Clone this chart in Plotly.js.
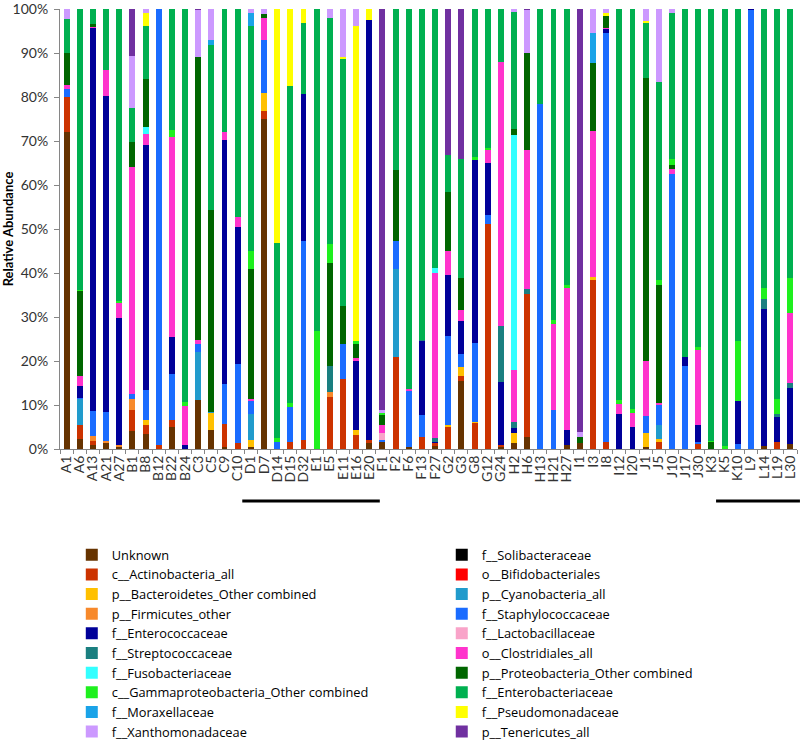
<!DOCTYPE html>
<html>
<head>
<meta charset="utf-8">
<script src="https://cdn.plot.ly/plotly-3.0.1.min.js"></script>
<style>html,body{margin:0;padding:0;background:#fff;}#chart{width:800px;height:740px;}</style>
</head>
<body>
<div id="chart"></div>
<script>
const samples = ["A1","A6","A13","A21","A27","B1","B8","B12","B22","B24",
  "C3","C5","C9","C10","D1","D7","D14","D15","D32","E1",
  "E5","E11","E16","E20","F1","F2","F6","F13","F27","G2",
  "G3","G8","G12","G24","H2","H6","H13","H21","H27","I1",
  "I3","I8","I12","I20","J1","J5","J10","J17","J30","K3",
  "K5","K10","L9","L14","L19","L30"];

const seriesNames = ["Unknown","f__Solibacteraceae","c__Actinobacteria_all","o__Bifidobacteriales",
  "p__Bacteroidetes_Other combined","p__Cyanobacteria_all","p__Firmicutes_other","f__Staphylococcaceae",
  "f__Enterococcaceae","f__Lactobacillaceae","f__Streptococcaceae","o__Clostridiales_all",
  "f__Fusobacteriaceae","p__Proteobacteria_Other combined","c__Gammaproteobacteria_Other combined",
  "f__Enterobacteriaceae","f__Moraxellaceae","f__Pseudomonadaceae","f__Xanthomonadaceae","p__Tenericutes_all"];

const seriesColors = ["#663300","#000000","#cc3300","#ff0000","#ffc000","#219bcc","#f7892b","#1a6cff",
  "#000099","#f9a3c9","#1a7f80","#ff33cc","#33ffff","#006600","#1ef01e","#00b050","#1aa3e8","#ffff00",
  "#cc99ff","#7030a0"];

const yTickValues = [0,10,20,30,40,50,60,70,80,90,100];

const unknown = [72,2.2,0.8,1.3,0.5,4.1,3.4,0,4.9,0,
  11.1,4.3,0.5,0,0.5,75.0,0,0,0,0,
  0,0,0,1.3,1.7,0,0.5,0,0.7,0,
  15.4,0,0,0.5,1.3,2.8,0,0,0.9,1.3,
  0,0,0,0,0.5,0,0,0,0,0,
  0,0,0,0.7,0,1.1];
const solibacteraceae = [0,0,0,0,0,0,0,0,0,0, 0,0,0,0,0,0,0,0,0,0, 0,0,0,0,0,0,0,0,0,0,
  0,0,0,0,0,0,0,0,0,0, 0,0,0,0,0,0,0,0,0,0, 0,0,0,0,0,0];
const actinobacteria = [8.1,3.2,1.0,0,0,4.7,2.0,0.9,1.7,0,
  0,0,5.1,1.3,0,1.9,0,1.7,2.0,0,
  11.8,16.0,3.2,0.8,0,21.0,0,2.8,0.6,4.9,
  1.3,5.9,51.1,0.4,0,32.5,0,0,0,0,
  38.5,1.7,0,0,0,1.7,0,0,1.1,0,
  0,0,0,0,1.7,0];
const bifidobacteriales = [0,0,0,0,0,0,0,0,0,0, 0,0,0,0,0,0,0,0,0,0, 0,0,0,0,0,0,0,0,0,0,
  0,0,0,0,0,0,0,0,0,0, 0,0,0,0,0,0,0,0,0,0, 0,0,0,0,0,0];
const bacteroidetes = [0,0,0,0,0,0,1.1,0,0,0,
  0,3.8,0,0,1.5,4.1,0,0,0,0,
  0,0,1.1,0,0,0,0,0,0,0.5,
  1.9,0.2,0,0,2.4,0,0,0,0,0,
  0.5,0,0,0,3.2,0.5,0,0,0,0,
  0,0,0,0,0,0];
const cyanobacteria = [0,6.0,0,0,0,0,0,0,0,0,
  10.9,0.3,0,0,6.0,0,0,0,0,0,
  0,0,0,0,0,19.8,0,0,0,0,
  0,0,0,0,0,0,0,0,0,0,
  0,0,0,0,0,3.2,0,0,0,0,
  0,0,0,0,0,0];
const firmicutes = [0,0,1.2,0.6,0.5,2.6,0,0,0,0,
  0,0,0,0,0,0,0,0,0,0,
  1.1,0,0,0,0,0,0,0,0,0,
  0,0,0,0,0,0,0,0,0,0,
  0,0,0,0,0,0,0,0,0,0,
  0,0,0,0,0,0];
const staphylococcaceae = [1.8,0.3,5.6,6.5,0,1.1,6.8,99.1,10.5,0,
  1.9,0,9.2,18.1,3.0,12.0,1.7,7.9,45.3,0,
  0,7.9,0,0,0.4,6.4,12.6,4.9,0,20.3,
  3.0,18.1,2.0,0,0,0,78.4,8.8,0,0,
  0,92.9,0,0,3.8,4.5,62.6,18.8,0.5,0,
  0,1.1,99.7,0,0,0];
const enterococcaceae = [0,2.6,87.1,71.8,28.8,0,55.7,0,8.3,0.9,
  0,0,55.5,31.0,0,0,0,0,33.3,0,
  0,0,15.8,95.4,0,0,0,16.8,0.4,13.8,
  7.5,41.4,12.0,14.3,1.0,0,0,0,3.4,0,
  0,0.8,7.9,4.9,0,0,0,2.2,3.8,0,
  0,9.9,0.3,31.1,5.6,12.7];
const lactobacillaceae = [0,0,0,0,0,0,0,0,0,0,
  0,0,0,0,0,0,0,0,0,0,
  0,0,0,0,1.5,0,0,0,0,0,
  0,0,0,0,0,0,0,0,0,0,
  0,0,0,0,0,0,0,0,0,0,
  0,0,0,0,0,0];
const streptococcaceae = [0,0,0,0,0,0,0,0,0,0,
  0,0,0,0,0,0,0,0,0,0,
  6.0,0,0,0,0,0,0,0.3,0.8,0,
  0,0,0,12.8,1.5,1.0,0,0,0,0,
  0,0,0,0,0,0,0,0,0,0,
  0,0,0,2.4,0.6,1.2];
const clostridiales = [0.9,2.3,0.3,6.0,3.4,51.7,2.6,0,45.5,8.8,
  0.8,0,1.7,2.3,0.4,4.9,0,0,0,0,
  0,0,0.6,0,1.9,0,0.5,0,37.6,5.6,
  2.6,0,2.9,60.0,11.7,31.6,0,19.6,32.4,0,
  33.3,0.3,2.4,3.2,12.5,0.5,1.1,0,17.1,0,
  0,0,0,0,0,16.0];
const fusobacteriaceae = [0,0,0,0,0,0,1.5,0,0,0,
  0,0,0,0,0,0,0,0,0,0,
  0,0,0,0,0,0,0,0,1.1,0,
  0,0,0,0,53.4,0,0,0,0,0,
  0,0,0,0,0,0,0,0,0,0,
  0,0,0,0,0,0];
const proteobacteria = [7.1,19.2,0.5,0,0,5.5,11.1,0,0,0,
  64.3,45.9,0,0,29.4,1.0,0,0,0,0,
  23.3,8.7,3.2,0,2.3,16.2,0,0,0,13.4,
  7.1,0,0,0,1.5,22.0,0,0,0,1.5,
  15.4,2.8,0,0,64.3,26.8,0.8,0,0,1.5,
  0,0,0,0,0,0];
const gammaproteobacteria = [0,0.4,0,0,0.5,0,0,0,1.5,1.0,
  0,0,0,0,4.1,0,0.8,0.8,0,26.9,
  4.5,0,0.6,0,0.3,0,0,0,0,0,
  0,0.8,0.4,0,0,0,0,0.9,0.6,0,
  0,0,0.8,1.1,0,1.3,1.5,0,0.6,0.4,
  0.7,13.5,0,2.3,3.4,7.9];
const enterobacteriaceae = [7.9,63.8,3.5,13.8,66.3,7.9,11.9,0,27.6,89.3,
  0,37.6,28.0,47.3,51.2,0,44.4,72.2,16.2,73.1,
  51.2,56.1,0,0,0,36.6,86.4,75.2,58.8,8.4,
  27.2,33.6,31.6,12.0,26.5,0,21.6,70.7,62.7,0,
  0,0,88.9,90.8,12.5,44.9,33.1,79.0,76.9,98.1,
  99.3,75.5,0,63.5,88.7,61.1];
const moraxellaceae = [0,0,0,0,0,0,0,0,0,0,
  0,1.1,0,0,3.0,0,0,0,0,0,
  0,0,0,0,0,0,0,0,0,0,
  0,0,0,0,0,0,0,0,0,0,
  6.8,0,0,0,0,0,0,0,0,0,
  0,0,0,0,0,0];
const pseudomonadaceae = [0,0,0,0,0,0,3.0,0,0,0,
  0,0,0,0,0,0,53.1,17.4,3.2,0,
  0,0.3,71.6,2.5,0,0,0,0,0,0,
  0,0,0,0,0,0,0,0,0,0,
  0,0.6,0,0,0.5,0,0,0,0,0,
  0,0,0,0,0,0];
const xanthomonadaceae = [2.2,0,0,0,0,11.7,0.9,0,0,0,
  10.8,7.0,0,0,0.9,1.1,0,0,0,0,
  2.1,11.0,3.9,0,0.7,0,0,0,0,0,
  0,0,0,0,0.7,9.8,0,0,0,1.0,
  5.5,0.9,0,0,2.7,16.6,0.9,0,0,0,
  0,0,0,0,0,0];
const tenericutes = [0,0,0,0,0,10.7,0,0,0,0,
  0.2,0,0,0,0,0,0,0,0,0,
  0,0,0,0,91.2,0,0,0,0,33.1,
  34.0,0,0,0,0,0.3,0,0,0,96.2,
  0,0,0,0,0,0,0,0,0,0,
  0,0,0,0,0,0];

const seriesValues = [unknown,solibacteraceae,actinobacteria,bifidobacteriales,bacteroidetes,
  cyanobacteria,firmicutes,staphylococcaceae,enterococcaceae,lactobacillaceae,streptococcaceae,
  clostridiales,fusobacteriaceae,proteobacteria,gammaproteobacteria,enterobacteriaceae,
  moraxellaceae,pseudomonadaceae,xanthomonadaceae,tenericutes];

const groupLines = [["D1","E20"],["K5","L30"]];

const FONT = "Lato, 'Open Sans', sans-serif";
const LEGEND_FONT = "'Open Sans', Lato, sans-serif";
const traces = seriesNames.map((name, i) => ({
  type: 'bar', name: name, x: samples, y: seriesValues[i],
  legend: (i % 2 === 0) ? 'legend' : 'legend2',
  marker: {color: seriesColors[i], line: {width: 0}},
  hoverinfo: 'name+y'
}));

const n = samples.length;
const shapes = groupLines.map(([a, b]) => {
  const i0 = samples.indexOf(a), i1 = samples.indexOf(b);
  return {type: 'line', xref: 'paper', yref: 'paper',
    x0: (i0 - 0.15) / n, x1: Math.min((i1 + 1.3) / n, 1.004),
    y0: -0.118, y1: -0.118, line: {color: '#000', width: 3}};
});

const legendBase = {orientation: 'v', traceorder: 'normal', xanchor: 'left', yref: 'container',
  y: 0.2703, yanchor: 'top', font: {family: LEGEND_FONT, size: 12.8, color: '#000'},
  bgcolor: 'rgba(0,0,0,0)', borderwidth: 0};

const layout = {
  width: 800, height: 740,
  margin: {l: 60, r: 3, t: 9, b: 291},
  barmode: 'stack', bargap: 0.55,
  paper_bgcolor: '#fff', plot_bgcolor: '#fff',
  font: {family: FONT, size: 13, color: '#333'},
  showlegend: true,
  xaxis: {type: 'category', tickangle: -90, tickson: 'boundaries', ticks: 'outside', ticklen: 4,
    tickmode: 'array', tickvals: samples, ticktext: samples,
    tickcolor: '#868686', showline: true, linecolor: '#868686', linewidth: 1,
    tickfont: {family: FONT, size: 14, color: '#333'}, showgrid: false, automargin: false},
  yaxis: {range: [0, 100], tickmode: 'array', tickvals: yTickValues,
    ticktext: yTickValues.map(v => v + '%'), ticks: 'outside', ticklen: 5, ticklabelstandoff: 3,
    ticklabeloverflow: 'allow',
    tickcolor: '#868686', showline: true, linecolor: '#868686', showgrid: false, zeroline: false,
    tickfont: {family: FONT, size: 14, color: '#333'}, automargin: false,
    title: {text: '<b>Relative Abundance</b>', font: {family: FONT, size: 13, color: '#000'}, standoff: 0}},
  legend: Object.assign({}, legendBase, {x: 0.016}),
  legend2: Object.assign({}, legendBase, {x: 0.518}),
  shapes: shapes
};

Plotly.newPlot('chart', traces, layout, {displayModeBar: false, staticPlot: true});
</script>
</body>
</html>
